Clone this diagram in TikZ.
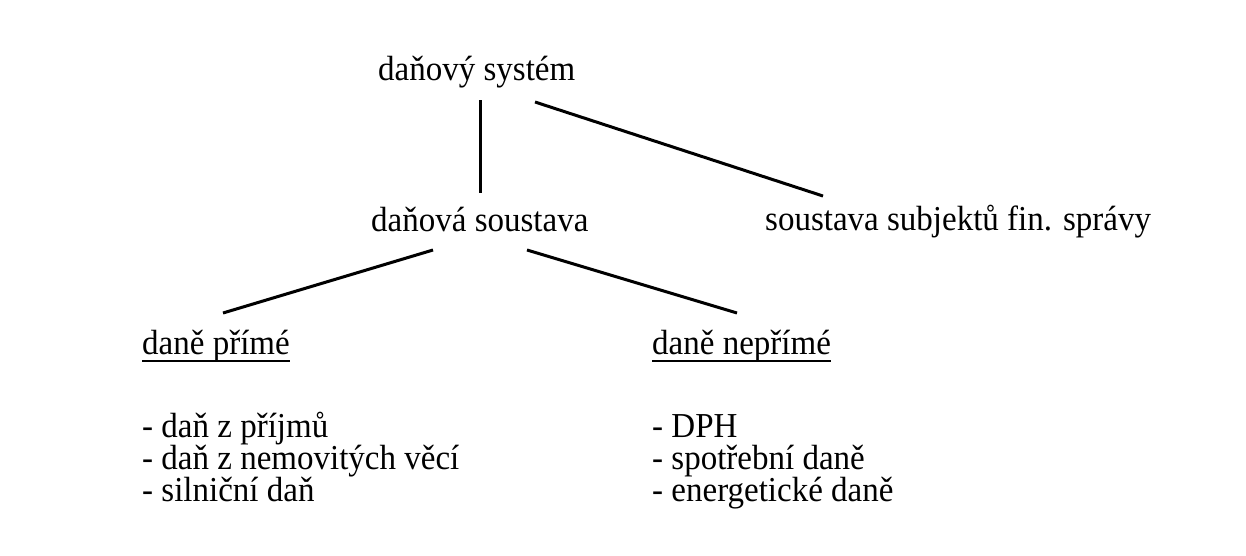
\documentclass[tikz,border=0pt]{standalone}
\usepackage{fontspec}
\setmainfont[FakeStretch=0.943]{Liberation Serif}
\begin{document}
\begin{tikzpicture}[x=1pt,y=-1pt,
  lbl/.style={anchor=base west,inner sep=0pt,font=\fontsize{35}{42}\selectfont},
  edge/.style={line width=3pt},
  uline/.style={line width=1.8pt}]
\useasboundingbox[fill=white] (0,0) rectangle (1246,555);

% tree labels
\node[lbl] (sys) at (378,80) {daňový systém};
\node[lbl] (sou) at (371,231) {daňová soustava};
\node[lbl] (sub) at (765,230) {soustava subjektů fin. správy};
\node[lbl] (pri) at (142,354) {daně přímé};
\node[lbl] (nep) at (652,354) {daně nepřímé};

% underlined group headings
\draw[uline] ([yshift=-7pt]pri.base west) -- ([yshift=-7pt]pri.base east);
\draw[uline] ([yshift=-7pt]nep.base west) -- ([yshift=-7pt]nep.base east);

% lists of taxes
\node[lbl] (p1) at (142,437) {- daň z příjmů};
\node[lbl] (p2) at (142,469) {- daň z nemovitých věcí};
\node[lbl] (p3) at (142,501) {- silniční daň};
\node[lbl] (n1) at (652,437) {- DPH};
\node[lbl] (n2) at (652,469) {- spotřební daně};
\node[lbl] (n3) at (652,501) {- energetické daně};

% connector end points
\coordinate (sysA) at (480,100);
\coordinate (souA) at (480,193);
\coordinate (sysB) at (535,102);
\coordinate (subA) at (823,196);
\coordinate (souL) at (433,250);
\coordinate (priA) at (223,313);
\coordinate (souR) at (527,250);
\coordinate (nepA) at (737,313);

\draw[edge] (sysA) -- (souA);
\draw[edge] (sysB) -- (subA);
\draw[edge] (souL) -- (priA);
\draw[edge] (souR) -- (nepA);
\end{tikzpicture}
\end{document}
